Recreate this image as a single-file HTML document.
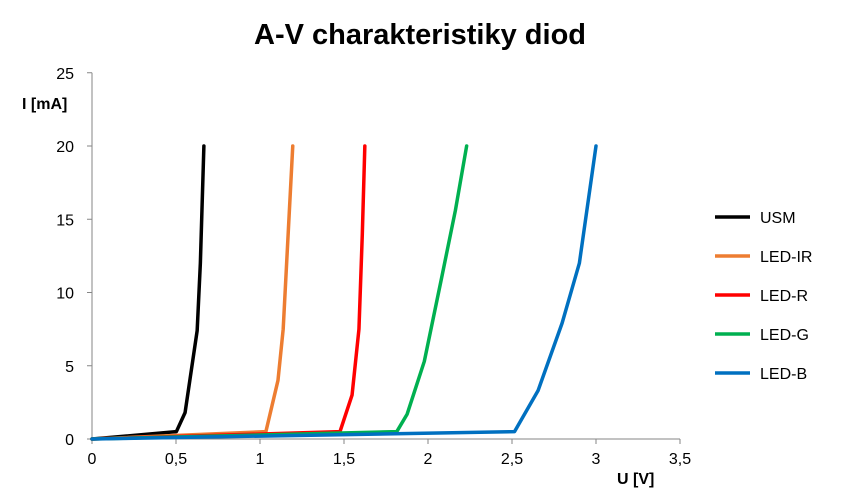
<!DOCTYPE html>
<html><head><meta charset="utf-8"><style>
body{margin:0;background:#fff;font-family:"Liberation Sans",sans-serif}
svg text{font-family:"Liberation Sans",sans-serif}
</style></head><body>
<svg width="841" height="499">
<text x="420" y="44" text-anchor="middle" font-size="29" font-weight="bold" fill="#000">A-V charakteristiky diod</text>
<g id="axes"></g>
<g id="series"></g>
<g id="legend"></g>
<text x="22" y="109" font-size="16" font-weight="bold">I [mA]</text>
<text x="617" y="484" font-size="16" font-weight="bold">U [V]</text>
</svg>
<script>
const xTicks=[0,0.5,1,1.5,2,2.5,3,3.5];
const xTickLabels=["0","0,5","1","1,5","2","2,5","3","3,5"];
const yTicks=[0,5,10,15,20,25];
const seriesNames=["USM","LED-IR","LED-R","LED-G","LED-B"];
const seriesColors=["#000000","#ed7d31","#ff0000","#00b050","#0070c0"];
const usmU=[0,0.502,0.554,0.626,0.645,0.666];
const usmI=[0,0.5,1.8,7.4,12,20];
const irU=[0,1.035,1.107,1.138,1.169,1.195];
const irI=[0,0.5,4,7.5,14.3,20];
const redU=[0,1.476,1.548,1.589,1.609,1.624];
const redI=[0,0.5,3,7.5,14,20];
const greenU=[0,1.814,1.876,1.978,2.081,2.163,2.23];
const greenI=[0,0.5,1.7,5.3,11,15.6,20];
const blueU=[0,2.515,2.655,2.798,2.901,3.0];
const blueI=[0,0.5,3.3,7.9,12,20];
const NS="http://www.w3.org/2000/svg";
const X0=92,XS=168,Y0=439,YS=14.65;
const sx=v=>X0+v*XS, sy=v=>Y0-v*YS;
function mk(tag,attrs,parent){const e=document.createElementNS(NS,tag);for(const k in attrs)e.setAttribute(k,attrs[k]);parent.appendChild(e);return e;}
const axes=document.getElementById('axes');
let l=mk('line',{x1:X0,y1:sy(25),x2:X0,y2:Y0,stroke:'#868686'},axes);


l=mk('line',{x1:X0,y1:Y0,x2:sx(3.5),y2:Y0,stroke:'#868686'},axes);


yTicks.forEach(v=>{
 const t=mk('line',{x1:X0-5,y1:sy(v),x2:X0,y2:sy(v),stroke:'#868686'},axes);
 
 
 const tx=mk('text',{x:X0-18,y:sy(v)+6,'text-anchor':'end','font-size':16},axes);
 tx.textContent=v;
 
 
});
xTicks.forEach((v,i)=>{
 const t=mk('line',{x1:sx(v),y1:Y0,x2:sx(v),y2:Y0+5,stroke:'#868686'},axes);
 
 
 const tx=mk('text',{x:sx(v),y:Y0+25,'text-anchor':'middle','font-size':16},axes);
 tx.textContent=xTickLabels[i];
 
 
});
const data=[[usmU,usmI],[irU,irI],[redU,redI],[greenU,greenI],[blueU,blueI]];
const sg=document.getElementById('series'), lg=document.getElementById('legend');
data.forEach((d,i)=>{
 const pts=d[0].map((u,j)=>sx(u)+','+sy(d[1][j])).join(' ');
 const p=mk('polyline',{points:pts,fill:'none',stroke:seriesColors[i],'stroke-width':3.5,'stroke-linejoin':'round','stroke-linecap':'round'},sg);
 
 
 const y=217+i*39;
 const ll=mk('line',{x1:715,y1:y,x2:750,y2:y,stroke:seriesColors[i],'stroke-width':3.5},lg);
 
 
 const lt=mk('text',{x:760,y:y+6,'font-size':16},lg);
 lt.textContent=seriesNames[i];
 
 
});
</script>
</body></html>
